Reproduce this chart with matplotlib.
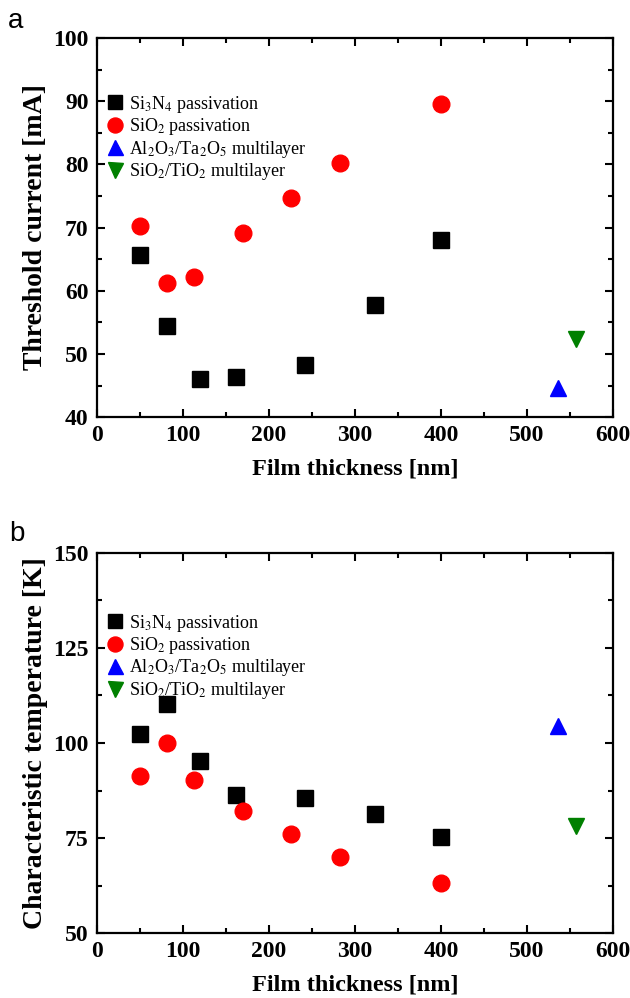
import matplotlib
matplotlib.use("Agg")
import matplotlib.pyplot as plt
from matplotlib.ticker import MultipleLocator

plt.rcParams['font.family'] = ['Liberation Serif', 'DejaVu Serif']
plt.rcParams['mathtext.fontset'] = 'stix'

# Film thickness [nm]
si3n4_x = [50, 81, 120, 162, 242, 323, 400]
sio2_x = [50, 81, 113, 170, 226, 282, 400]
al2o3_x = [536]
sio2tio2_x = [557]

# Threshold current [mA]
si3n4_ith = [65.7, 54.5, 46.0, 46.3, 48.2, 57.8, 68.1]
sio2_ith = [70.2, 61.3, 62.1, 69.2, 74.7, 80.2, 89.5]
al2o3_ith = [44.6]
sio2tio2_ith = [52.3]

# Characteristic temperature [K]
si3n4_t0 = [102.3, 110.3, 95.3, 86.4, 85.6, 81.2, 75.3]
sio2_t0 = [91.3, 100.1, 90.3, 82.1, 76.2, 70.1, 63.2]
al2o3_t0 = [104.5]
sio2tio2_t0 = [78.3]

labels = [r'Si$_3$N$_4$ passivation', r'SiO$_2$ passivation',
          r'Al$_2$O$_3$/Ta$_2$O$_5$ multilayer', r'SiO$_2$/TiO$_2$ multilayer']


def draw_panel(ax, ys, ylim, ystep, ylabel, legend_anchor):
    ax.plot(si3n4_x, ys[0], 's', color='black', ms=11, label=labels[0])
    ax.plot(sio2_x, ys[1], 'o', color='red', ms=12, label=labels[1])
    ax.plot(al2o3_x, ys[2], '^', color='blue', ms=12, label=labels[2])
    ax.plot(sio2tio2_x, ys[3], 'v', color='green', ms=12, label=labels[3])

    ax.set_xlim(0, 600)
    ax.set_ylim(*ylim)
    ax.xaxis.set_major_locator(MultipleLocator(100))
    ax.xaxis.set_minor_locator(MultipleLocator(50))
    ax.yaxis.set_major_locator(MultipleLocator(ystep))
    ax.yaxis.set_minor_locator(MultipleLocator(ystep / 2))
    ax.tick_params(which='both', direction='in', top=True, right=True, width=1.5)
    ax.tick_params(which='major', length=6, labelsize=17, pad=6)
    ax.tick_params(which='minor', length=3.5)
    for lab in ax.get_xticklabels() + ax.get_yticklabels():
        lab.set_fontweight('bold')
    for sp in ax.spines.values():
        sp.set_linewidth(1.6)

    ax.set_xlabel('Film thickness [nm]', fontsize=17.5, fontweight='bold', labelpad=9)
    ax.set_ylabel(ylabel, fontsize=20, fontweight='bold', labelpad=4)

    leg = ax.legend(loc='upper left', bbox_to_anchor=legend_anchor, frameon=False,
                    fontsize=13, handletextpad=0.15, labelspacing=0.08,
                    borderaxespad=0, handlelength=1.2, markerscale=0.9)
    return leg


fig = plt.figure(figsize=(6.3, 9.98), dpi=100)
ax1 = fig.add_axes([0.154, 0.582, 0.819, 0.380])
ax2 = fig.add_axes([0.154, 0.065, 0.819, 0.381])

draw_panel(ax1, [si3n4_ith, sio2_ith, al2o3_ith, sio2tio2_ith], (40, 100), 10,
           'Threshold current [mA]', (0.0, 0.872))
draw_panel(ax2, [si3n4_t0, sio2_t0, al2o3_t0, sio2tio2_t0], (50, 150), 25,
           'Characteristic temperature [K]', (0.0, 0.862))

fig.text(0.012, 0.972, 'a', fontsize=20, family='Liberation Sans')
fig.text(0.014, 0.458, 'b', fontsize=20, family='Liberation Sans')

fig.savefig('out.png', dpi=100)
